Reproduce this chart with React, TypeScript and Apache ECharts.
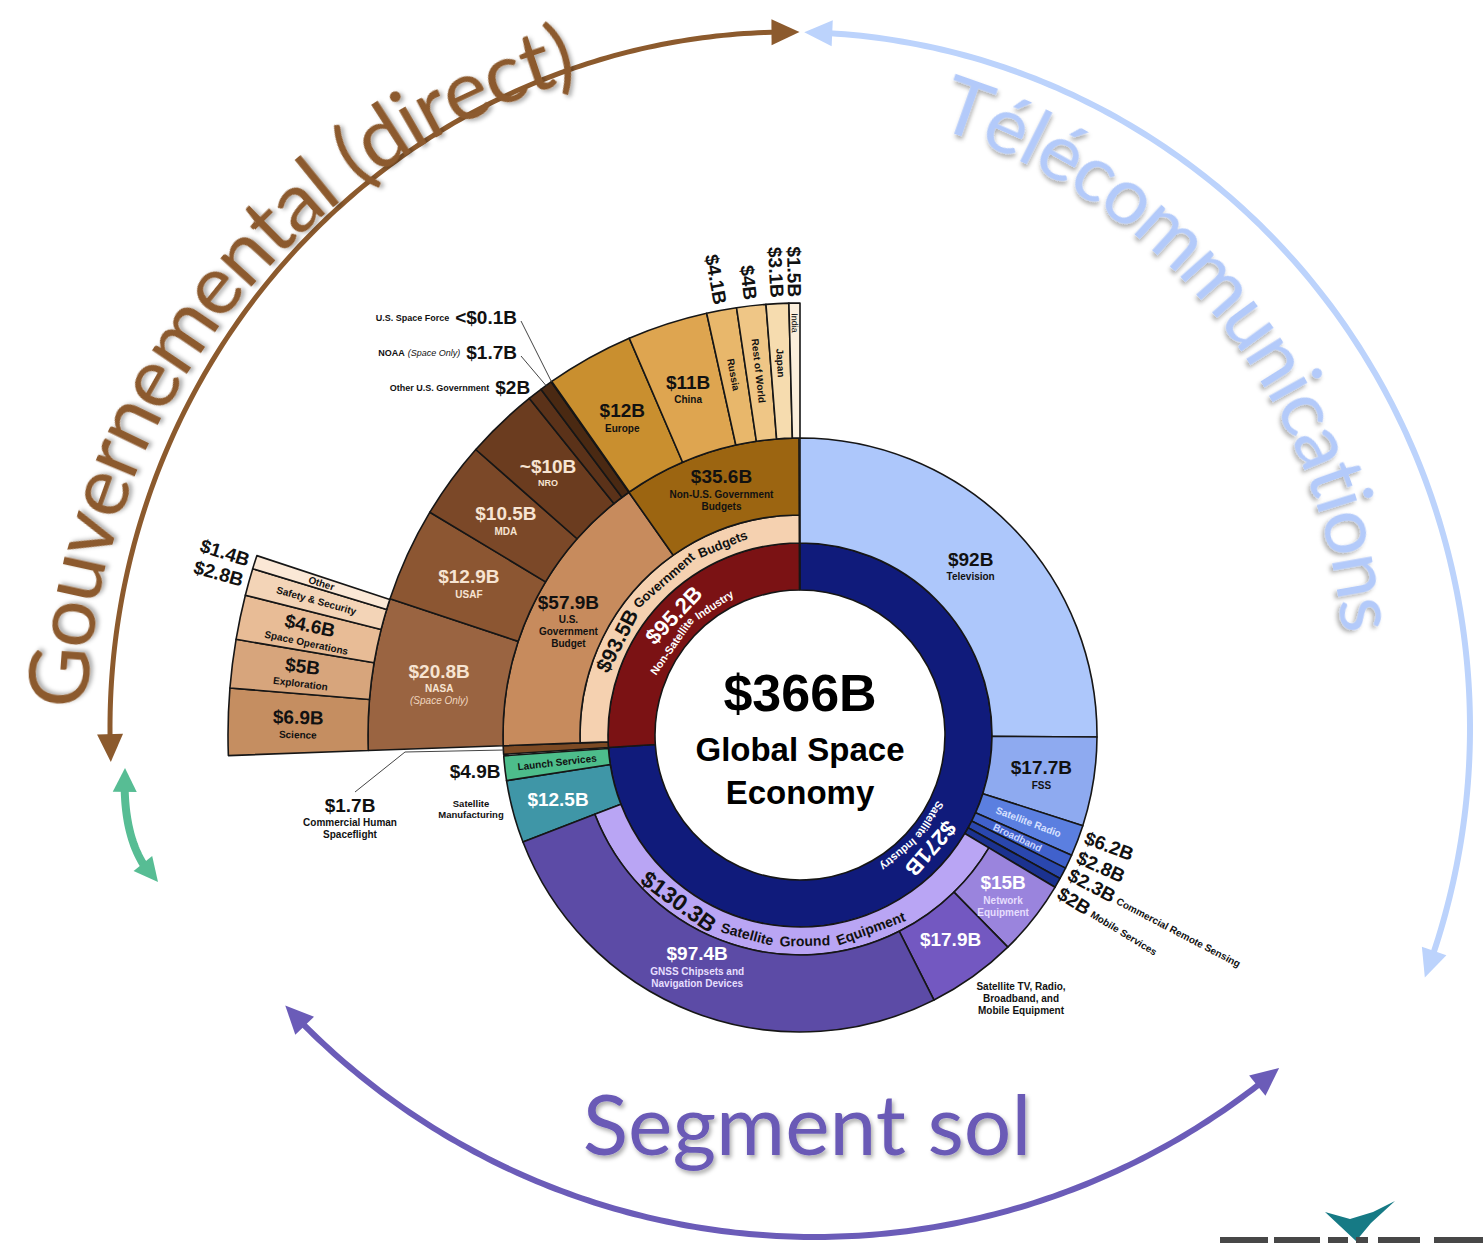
import React, { useEffect, useRef } from "react";
import * as echarts from "echarts";

// ---------------- data ----------------
const TOTAL_VALUE = 366;
const INDUSTRY_NAMES = ["Satellite Industry", "Non-Satellite Industry"];
const INDUSTRY_VALUES = [271, 95.2];
const SERVICE_NAMES = ["Television", "FSS", "Satellite Radio", "Broadband", "Commercial Remote Sensing", "Mobile Services"];
const SERVICE_VALUES = [92, 17.7, 6.2, 2.8, 2.3, 2];
const GROUND_NAME = "Satellite Ground Equipment";
const GROUND_TOTAL = 130.3;
const GROUND_NAMES = ["Network Equipment", "Satellite TV, Radio, Broadband, and Mobile Equipment", "GNSS Chipsets and Navigation Devices"];
const GROUND_VALUES = [15, 17.9, 97.4];
const MANUFACTURING_VALUE = 12.5;
const LAUNCH_VALUE = 4.9;
const HUMAN_SPACEFLIGHT_VALUE = 1.7;
const GOV_TOTAL = 93.5;
const GOV_NAMES = ["U.S. Government Budget", "Non-U.S. Government Budgets"];
const GOV_VALUES = [57.9, 35.6];
const US_NAMES = ["NASA", "USAF", "MDA", "NRO", "Other U.S. Government", "NOAA", "U.S. Space Force"];
const US_VALUES = [20.8, 12.9, 10.5, 10, 2, 1.7, 0.1];
const US_VALUE_TEXT = ["$20.8B", "$12.9B", "$10.5B", "~$10B", "$2B", "$1.7B", "<$0.1B"];
const INTL_NAMES = ["Europe", "China", "Russia", "Rest of World", "Japan", "India"];
const INTL_VALUES = [12, 11, 4.1, 4, 3.1, 1.5];
const NASA_NAMES = ["Science", "Exploration", "Space Operations", "Safety & Security", "Other"];
const NASA_VALUES = [6.9, 5, 4.6, 2.8, 1.4];

// ---------------- layout / style ----------------
const CX = 800, CY = 735;
const R_HOLE = 145, R1 = 192, R2 = 220, R3 = 297, R4 = 432, R5 = 572;
const FONT = '"Liberation Sans", Arial, Helvetica, sans-serif';
const TFONT = 'Lato, "DejaVu Sans", sans-serif';
const BORDER = "#161616";

const NAVY = "#101b7b";
const DARK_RED = "#7b1214";
const SERVICE_COLORS = ["#adc7fb", "#8eaaf0", "#5b7fe0", "#4061cc", "#2a47ae", "#1b3290"];
const GROUND_RING = "#b9a5f4";
const GROUND_COLORS = ["#9a84dd", "#7358c1", "#5c4ba6"];
const MANUF_COLOR = "#3f96a7";
const LAUNCH_COLOR = "#4dbd8b";
const CHS_COLOR = "#7c4a24";
const GOV_RING = "#f5d1b0";
const GOV_COLORS = ["#c78b5d", "#9c6511"];
const US_COLORS = ["#9a6441", "#8c5632", "#7b4828", "#6b3c1f", "#5b3219", "#4a2912", "#3a200d"];
const INTL_COLORS = ["#c98f2f", "#dea550", "#e8b76b", "#efc686", "#f6dcaf", "#fbefdc"];
const NASA_COLORS = ["#c58e61", "#d7a57c", "#e8bc96", "#f3d4b7", "#fbe8d6"];

const GOV_TITLE = "#8c5a2d";
const TEL_TITLE = "#b3cafa";
const SEG_TITLE = "#6a5ab6";
const GREEN_ARROW = "#57bd94";
const BLUE_ARROW = "#bcd3fc";
const PURPLE_ARROW = "#6b5cb8";

const money = (v: number) => "$" + v + "B";
const sum = (a: number[]) => a.reduce((s, v) => s + v, 0);
const rad = (d: number) => (d * Math.PI) / 180;

let _ctx: any = null;
function measure(text: string, size: number, weight = "bold", family = FONT, style = "normal") {
  if (!_ctx) _ctx = document.createElement("canvas").getContext("2d");
  _ctx.font = `${style} ${weight} ${size}px ${family}`;
  return _ctx.measureText(text).width;
}

function T(text: string, x: number, y: number, size: number, color: string, o: any = {}) {
  const style: any = {
    text,
    fill: color,
    fontSize: size,
    fontWeight: o.weight ?? "bold",
    fontStyle: o.style ?? "normal",
    fontFamily: o.family ?? FONT,
    textAlign: o.align ?? "center",
    textVerticalAlign: o.valign ?? "middle",
  };
  if (o.shadow) {
    style.textShadowColor = "rgba(0,0,0,0.32)";
    style.textShadowBlur = 4;
    style.textShadowOffsetX = 2;
    style.textShadowOffsetY = 3;
  }
  return { type: "text", x, y, rotation: rad(o.rot ?? 0), silent: true, z: o.z ?? 100, style };
}

function block(x: number, y: number, lines: any[], rot = 0) {
  const hs = lines.map((l) => l[1] * 1.2);
  let yy = -sum(hs) / 2;
  const children = lines.map((l, i) => {
    const c = T(l[0], 0, yy + hs[i] / 2, l[1], l[2], l[3] || {});
    yy += hs[i];
    return c;
  });
  return { type: "group", x, y, rotation: rad(rot), children, z: 100 };
}

// text placed along an arc; dir 1 = clockwise reading, tops outward; dir -1 = counter-clockwise, tops inward
function arcSeq(items: any[], cx: number, cy: number, r: number, aCenter: number, dir: number, gap: number) {
  const ws = items.map((it) => measure(it.t, it.size, it.weight ?? "bold", it.family ?? FONT, it.style ?? "normal"));
  const totalPx = sum(ws) + gap * (items.length - 1);
  const totalDeg = ((totalPx / r) * 180) / Math.PI;
  let a = aCenter - (dir * totalDeg) / 2;
  const out: any[] = [];
  items.forEach((it, i) => {
    const d = ((ws[i] / r) * 180) / Math.PI;
    const am = a + (dir * d) / 2;
    a += dir * (d + ((gap / r) * 180) / Math.PI);
    if (it.t.trim() === "") return;
    const x = cx + r * Math.sin(rad(am));
    const y = cy - r * Math.cos(rad(am));
    const rot = dir === 1 ? -am : 180 - am;
    out.push(T(it.t, x, y, it.size, it.color, { ...it, rot }));
  });
  return out;
}

function arrowEls(pts: number[][], color: string, width: number, headLen: number, headW: number) {
  const L = [0];
  for (let i = 1; i < pts.length; i++) L.push(L[i - 1] + Math.hypot(pts[i][0] - pts[i - 1][0], pts[i][1] - pts[i - 1][1]));
  const tot = L[L.length - 1];
  const at = (d: number) => {
    for (let i = 1; i < pts.length; i++)
      if (L[i] >= d) {
        const f = (d - L[i - 1]) / (L[i] - L[i - 1] || 1);
        return [pts[i - 1][0] + f * (pts[i][0] - pts[i - 1][0]), pts[i - 1][1] + f * (pts[i][1] - pts[i - 1][1])];
      }
    return pts[pts.length - 1];
  };
  const d0 = headLen * 0.8, d1 = tot - headLen * 0.8;
  const line = [at(d0), ...pts.filter((_, i) => L[i] > d0 && L[i] < d1), at(d1)];
  const tri = (tip: number[], base: number[]) => {
    const dx = tip[0] - base[0], dy = tip[1] - base[1];
    const l = Math.hypot(dx, dy);
    const nx = -dy / l, ny = dx / l;
    return [tip, [base[0] + (nx * headW) / 2, base[1] + (ny * headW) / 2], [base[0] - (nx * headW) / 2, base[1] - (ny * headW) / 2]];
  };
  return [
    { type: "polyline", shape: { points: line }, style: { stroke: color, lineWidth: width, fill: "none" }, silent: true, z: 20 },
    { type: "polygon", shape: { points: tri(pts[0], at(headLen)) }, style: { fill: color }, silent: true, z: 20 },
    { type: "polygon", shape: { points: tri(pts[pts.length - 1], at(tot - headLen)) }, style: { fill: color }, silent: true, z: 20 },
  ];
}

const ellipsePts = (ecx: number, ecy: number, rx: number, ry: number, t0: number, t1: number, n = 160) =>
  Array.from({ length: n + 1 }, (_, i) => {
    const t = rad(t0 + ((t1 - t0) * i) / n);
    return [ecx + rx * Math.cos(t), ecy - ry * Math.sin(t)];
  });

function buildOption() {
  // ring segments (offsets in $B along the circle, starting at 12 o'clock)
  const O_GROUND = sum(SERVICE_VALUES);
  const O_MANUF = O_GROUND + GROUND_TOTAL;
  const O_LAUNCH = O_MANUF + MANUFACTURING_VALUE;
  const O_CHS = INDUSTRY_VALUES[0];
  const O_GOV = O_CHS + HUMAN_SPACEFLIGHT_VALUE;

  const seqSegs = (keys: string[], values: number[], colors: string[], start: number) => {
    let o = start;
    return keys.map((k, i) => {
      const s = { key: k, value: values[i], color: colors[i], offset: o };
      o += values[i];
      return s;
    });
  };

  const ringDefs = [
    { r0: R_HOLE, r1: R1, segs: seqSegs(["sat", "nonsat"], INDUSTRY_VALUES, [NAVY, DARK_RED], 0) },
    {
      r0: R1, r1: R3,
      segs: [
        ...seqSegs(SERVICE_NAMES.map((n) => "svc:" + n), SERVICE_VALUES, SERVICE_COLORS, 0),
        { key: "manuf", value: MANUFACTURING_VALUE, color: MANUF_COLOR, offset: O_MANUF },
        { key: "launch", value: LAUNCH_VALUE, color: LAUNCH_COLOR, offset: O_LAUNCH },
        { key: "chs", value: HUMAN_SPACEFLIGHT_VALUE, color: CHS_COLOR, offset: O_CHS },
      ],
    },
    {
      r0: R1, r1: R2,
      segs: [
        { key: "ground", value: GROUND_TOTAL, color: GROUND_RING, offset: O_GROUND },
        { key: "gov", value: GOV_TOTAL, color: GOV_RING, offset: O_GOV },
      ],
    },
    {
      r0: R2, r1: R3,
      segs: [
        ...seqSegs(GROUND_NAMES.map((n) => "gnd:" + n), GROUND_VALUES, GROUND_COLORS, O_GROUND),
        ...seqSegs(["us", "intlgov"], GOV_VALUES, GOV_COLORS, O_GOV),
      ],
    },
    {
      r0: R3, r1: R4,
      segs: [
        ...seqSegs(US_NAMES.map((n) => "us:" + n), US_VALUES, US_COLORS, O_GOV),
        ...seqSegs(INTL_NAMES.map((n) => "intl:" + n), INTL_VALUES, INTL_COLORS, O_GOV + GOV_VALUES[0]),
      ],
    },
    { r0: R4, r1: R5, segs: seqSegs(NASA_NAMES.map((n) => "nasa:" + n), NASA_VALUES, NASA_COLORS, O_GOV) },
  ];

  const pos: Record<string, { start: number; value: number }> = {};
  let GRAND = 0;
  const placedRings = ringDefs.map((rd) => {
    const segs = [...rd.segs].sort((a, b) => a.offset - b.offset);
    let c = 0;
    const placed = segs.map((s) => {
      const start = Math.max(s.offset, c);
      c = start + s.value;
      pos[s.key] = { start, value: s.value };
      return { ...s, start };
    });
    GRAND = Math.max(GRAND, c);
    return { ...rd, placed };
  });

  const spacer = (v: number) => ({
    name: "",
    value: v,
    itemStyle: { color: "rgba(0,0,0,0)", borderWidth: 0, borderColor: "rgba(0,0,0,0)" },
  });

  const series = placedRings.map((rg, idx) => {
    const data: any[] = [];
    let c = 0;
    rg.placed.forEach((s) => {
      if (s.start - c > 1e-6) data.push(spacer(s.start - c));
      data.push({ name: s.key, value: s.value, itemStyle: { color: s.color } });
      c = s.start + s.value;
    });
    if (GRAND - c > 1e-6) data.push(spacer(GRAND - c));
    return {
      type: "pie",
      name: "ring" + idx,
      center: [CX, CY],
      radius: [rg.r0, rg.r1],
      startAngle: 90,
      clockwise: true,
      minAngle: 0,
      avoidLabelOverlap: false,
      silent: true,
      label: { show: false },
      labelLine: { show: false },
      emphasis: { disabled: true },
      itemStyle: { borderColor: BORDER, borderWidth: 1.6 },
      data,
    };
  });

  const midA = (key: string) => ((pos[key].start + pos[key].value / 2) / GRAND) * 360;
  const polar = (a: number, r: number) => [CX + r * Math.sin(rad(a)), CY - r * Math.cos(rad(a))];
  const RM_SVC = (R1 + R3) / 2, RM3 = (R2 + R3) / 2, RM4 = (R3 + R4) / 2, RM5 = (R4 + R5) / 2;

  const els: any[] = [];

  // ---- big decorative arrows ----
  els.push(...arrowEls(ellipsePts(790, 728, 680, 696, 182.8, 89.2), GOV_TITLE, 5, 28, 26));
  els.push(...arrowEls(ellipsePts(790, 728, 680, 696, 88.8, -21), BLUE_ARROW, 6, 28, 26));
  els.push(...arrowEls(ellipsePts(815, 515, 722, 722, -137.2, -50), PURPLE_ARROW, 6, 28, 26));
  {
    const p0 = [125, 768], c = [121, 848], p2 = [158, 882];
    const pts = Array.from({ length: 41 }, (_, i) => {
      const t = i / 40;
      return [
        (1 - t) * (1 - t) * p0[0] + 2 * (1 - t) * t * c[0] + t * t * p2[0],
        (1 - t) * (1 - t) * p0[1] + 2 * (1 - t) * t * c[1] + t * t * p2[1],
      ];
    });
    els.push(...arrowEls(pts, GREEN_ARROW, 8, 24, 24));
  }

  // ---- big titles ----
  const chars = (s: string, size: number, color: string) =>
    Array.from(s).map((ch) => ({ t: ch, size, color, weight: "normal", family: TFONT, shadow: true, z: 30 }));
  els.push(...arcSeq(chars("Gouvernemental (direct)", 84, GOV_TITLE), 761, 728, 707, 308.0, 1, 0));
  els.push(...arcSeq(chars("Télécommunications", 80, TEL_TITLE), 765, 681, 610, 51.25, 1, 0));
  els.push(T("Segment sol", 807, 1122, 84, SEG_TITLE, { family: TFONT, weight: "normal", shadow: true, z: 30 }));

  // ---- center ----
  els.push(T(money(TOTAL_VALUE), CX, CY - 42, 52, "#000"));
  els.push(T("Global Space", CX, CY + 14, 33, "#000"));
  els.push(T("Economy", CX, CY + 57, 33, "#000"));

  // ---- ring 1 ----
  els.push(...arcSeq([{ t: money(INDUSTRY_VALUES[0]), size: 22, color: "#fff" }], CX, CY, 173, 131, 1, 0));
  els.push(...arcSeq([{ t: "Satellite", size: 11, color: "#fff" }, { t: "Industry", size: 11, color: "#fff" }], CX, CY, 155, 132, 1, 4));
  els.push(...arcSeq([{ t: money(INDUSTRY_VALUES[1]), size: 22, color: "#fff" }], CX, CY, 174, 313.5, 1, 0));
  els.push(...arcSeq([{ t: "Non-Satellite", size: 11, color: "#fff" }, { t: "Industry", size: 11, color: "#fff" }], CX, CY, 156, 313.5, 1, 4));

  // ---- ring 2 ----
  els.push(
    ...arcSeq(
      [
        { t: money(GOV_TOTAL), size: 21, color: "#111" },
        { t: "Government", size: 13, color: "#111" },
        { t: "Budgets", size: 13, color: "#111" },
      ],
      CX, CY, 206, 316.5, 1, 5
    )
  );
  els.push(
    ...arcSeq(
      [
        { t: money(GROUND_TOTAL), size: 23, color: "#111" },
        ...GROUND_NAME.split(" ").map((w) => ({ t: w, size: 14, color: "#111" })),
      ],
      CX, CY, 206, 189, -1, 6
    )
  );

  // ---- services ----
  {
    const [x, y] = polar(midA("svc:" + SERVICE_NAMES[0]), RM_SVC - 4);
    els.push(block(x, y, [[money(SERVICE_VALUES[0]), 19, "#111"], [SERVICE_NAMES[0], 10, "#111"]]));
    const [x2, y2] = polar(midA("svc:" + SERVICE_NAMES[1]), RM_SVC);
    els.push(block(x2, y2, [[money(SERVICE_VALUES[1]), 19, "#111"], [SERVICE_NAMES[1], 10, "#111"]]));
    [2, 3].forEach((i) => {
      const a = midA("svc:" + SERVICE_NAMES[i]);
      const [sx, sy] = polar(a, RM_SVC - (i === 3 ? 4 : 0));
      els.push(T(SERVICE_NAMES[i], sx, sy, 10, i === 2 ? "#d8e1ff" : "#cbd6ff", { rot: 90 - a }));
    });
    const adj = [0, 0, -0.8, -1.3, -0.2, 1.6];
    [2, 3, 4, 5].forEach((i) => {
      const a = midA("svc:" + SERVICE_NAMES[i]) + adj[i];
      const [ox, oy] = polar(a, R3 + 6);
      const v = money(SERVICE_VALUES[i]);
      const children: any[] = [T(v, 0, 8, 19, "#111", { align: "left", valign: "bottom" })];
      if (i >= 4) children.push(T(SERVICE_NAMES[i], measure(v, 19) + 4, 5, 10, "#111", { align: "left", valign: "bottom" }));
      els.push({ type: "group", x: ox, y: oy, rotation: rad(90 - a), children, z: 100 });
    });
  }

  // ---- ground equipment ----
  {
    const w = "#ffffff", w2 = "#e6defe";
    let [x, y] = polar(midA("gnd:" + GROUND_NAMES[0]), RM3);
    els.push(block(x, y, [[money(GROUND_VALUES[0]), 19, w], ["Network", 10, w2], ["Equipment", 10, w2]]));
    [x, y] = polar(midA("gnd:" + GROUND_NAMES[1]), RM3);
    els.push(block(x, y - 6, [[money(GROUND_VALUES[1]), 19, w]]));
    els.push(block(1021, 998, [["Satellite TV, Radio,", 10, "#111"], ["Broadband, and", 10, "#111"], ["Mobile Equipment", 10, "#111"]]));
    [x, y] = polar(midA("gnd:" + GROUND_NAMES[2]) + 3, RM3 - 6);
    els.push(block(x, y, [[money(GROUND_VALUES[2]), 19, w], ["GNSS Chipsets and", 10, w2], ["Navigation Devices", 10, w2]]));
    [x, y] = polar(midA("manuf"), RM3 - 8);
    els.push(block(x, y, [[money(MANUFACTURING_VALUE), 19, w]]));
    els.push(block(471, 809, [["Satellite", 9.5, "#111"], ["Manufacturing", 9.5, "#111"]]));
    const aL = midA("launch");
    [x, y] = polar(aL, RM_SVC);
    els.push(T("Launch Services", x, y, 10, "#111", { rot: 270 - aL }));
    [x, y] = polar(aL, R3 + 30);
    els.push(T(money(LAUNCH_VALUE), x, y, 19, "#111"));
    // commercial human spaceflight
    const aC = midA("chs");
    els.push({
      type: "polyline",
      shape: { points: [polar(aC, R3), [405, 752], [355, 792]] },
      style: { stroke: "#444", lineWidth: 1, fill: "none" },
      silent: true,
      z: 90,
    });
    els.push(block(350, 817, [[money(HUMAN_SPACEFLIGHT_VALUE), 19, "#111"], ["Commercial Human", 10, "#111"], ["Spaceflight", 10, "#111"]]));
  }

  // ---- government ----
  {
    let [x, y] = polar(midA("us"), RM3);
    els.push(block(x, y, [[money(GOV_VALUES[0]), 19, "#111"], ["U.S.", 10, "#111"], ["Government", 10, "#111"], ["Budget", 10, "#111"]]));
    [x, y] = polar(midA("intlgov"), RM3);
    els.push(block(x, y, [[money(GOV_VALUES[1]), 19, "#111"], ["Non-U.S. Government", 10, "#111"], ["Budgets", 10, "#111"]]));

    const light = "#f7e4d2";
    [0, 1, 2, 3].forEach((i) => {
      const a = midA("us:" + US_NAMES[i]);
      const [bx, by] = polar(a, RM4);
      const lines: any[] = [[US_VALUE_TEXT[i], 19, light], [US_NAMES[i], i === 3 ? 9 : 10, light]];
      if (i === 0) lines.push(["(Space Only)", 10, "#efd5bf", { style: "italic", weight: "normal" }]);
      els.push(block(bx, by, lines));
    });
    // other US gov
    {
      const a = midA("us:" + US_NAMES[4]);
      const [ax, ay] = polar(a, R4 + 8);
      const v = US_VALUE_TEXT[4];
      els.push({
        type: "group", x: ax, y: ay, z: 100,
        children: [
          T(v, 0, 0, 19, "#111", { align: "right" }),
          T(US_NAMES[4], -measure(v, 19) - 6, 1, 9, "#111", { align: "right" }),
        ],
      });
    }
    // NOAA and Space Force
    {
      const rows = [
        { i: 5, y: 352, extra: "(Space Only)" },
        { i: 6, y: 317, extra: "" },
      ];
      rows.forEach((r) => {
        const v = US_VALUE_TEXT[r.i];
        const vw = measure(v, 19);
        const children: any[] = [T(v, 0, 0, 19, "#111", { align: "right" })];
        let xx = -vw - 6;
        if (r.extra) {
          children.push(T(r.extra, xx, 1, 9, "#111", { align: "right", style: "italic", weight: "normal" }));
          xx -= measure(r.extra, 9, "normal", FONT, "italic") + 3;
        }
        children.push(T(US_NAMES[r.i], xx, 1, 9, "#111", { align: "right" }));
        els.push({ type: "group", x: 517, y: r.y, z: 100, children });
        const a = midA("us:" + US_NAMES[r.i]);
        els.push({
          type: "polyline",
          shape: { points: [[521, r.y + 4], polar(a, R4)] },
          style: { stroke: "#444", lineWidth: 1, fill: "none" },
          silent: true,
          z: 90,
        });
      });
    }
    // international
    [0, 1].forEach((i) => {
      const [bx, by] = polar(midA("intl:" + INTL_NAMES[i]), RM4);
      els.push(block(bx, by, [[money(INTL_VALUES[i]), 19, "#111"], [INTL_NAMES[i], 10, "#111"]]));
    });
    [2, 3, 4, 5].forEach((i) => {
      const a = midA("intl:" + INTL_NAMES[i]);
      const [bx, by] = polar(a, i === 5 ? R4 - 20 : RM4 + (i === 4 ? 8 : 2));
      els.push(T(INTL_NAMES[i], bx, by, i === 5 ? 9 : 10, "#111", { rot: 270 - a, weight: i === 5 ? "normal" : "bold" }));
      const [ox, oy] = polar(a, R4 + 6);
      els.push(T(money(INTL_VALUES[i]), ox, oy, 19, "#111", { rot: 270 - a, align: "right" }));
    });
    // NASA breakdown
    [0, 1, 2].forEach((i) => {
      const a = midA("nasa:" + NASA_NAMES[i]);
      const [bx, by] = polar(a, RM5);
      els.push(block(bx, by, [[money(NASA_VALUES[i]), 19, "#111"], [NASA_NAMES[i], 10, "#111"]], 270 - a));
    });
    [3, 4].forEach((i) => {
      const a = midA("nasa:" + NASA_NAMES[i]);
      const [bx, by] = polar(a, RM5);
      els.push(T(NASA_NAMES[i], bx, by, 10, "#111", { rot: 270 - a }));
      const [ox, oy] = polar(a, R5 + 6);
      els.push(T(money(NASA_VALUES[i]), ox, oy, 19, "#111", { rot: 270 - a, align: "right" }));
    });
  }

  // ---- logo fragment (bottom right) ----
  els.push({
    type: "polygon",
    shape: { points: [[1325, 1212], [1350, 1219], [1373, 1212], [1395, 1201], [1371, 1223], [1356, 1241]] },
    style: { fill: "#167a85" },
    silent: true,
    z: 10,
  });
  [[1220, 48], [1274, 46], [1328, 20], [1356, 12], [1378, 42], [1434, 49]].forEach(([x, w]) =>
    els.push({ type: "rect", shape: { x, y: 1237, width: w, height: 10 }, style: { fill: "#474747" }, silent: true, z: 10 })
  );

  return {
    animation: false,
    backgroundColor: "#ffffff",
    series,
    graphic: { elements: els },
  };
}

export default function App() {
  const ref = useRef<HTMLDivElement>(null);
  useEffect(() => {
    const chart = echarts.init(ref.current!, null, { renderer: "svg" });
    chart.setOption(buildOption() as any);
    return () => chart.dispose();
  }, []);
  return (
    <div
      ref={ref}
      style={{ position: "fixed", left: 0, top: 0, width: 1483, height: 1243, background: "#ffffff" }}
    />
  );
}
